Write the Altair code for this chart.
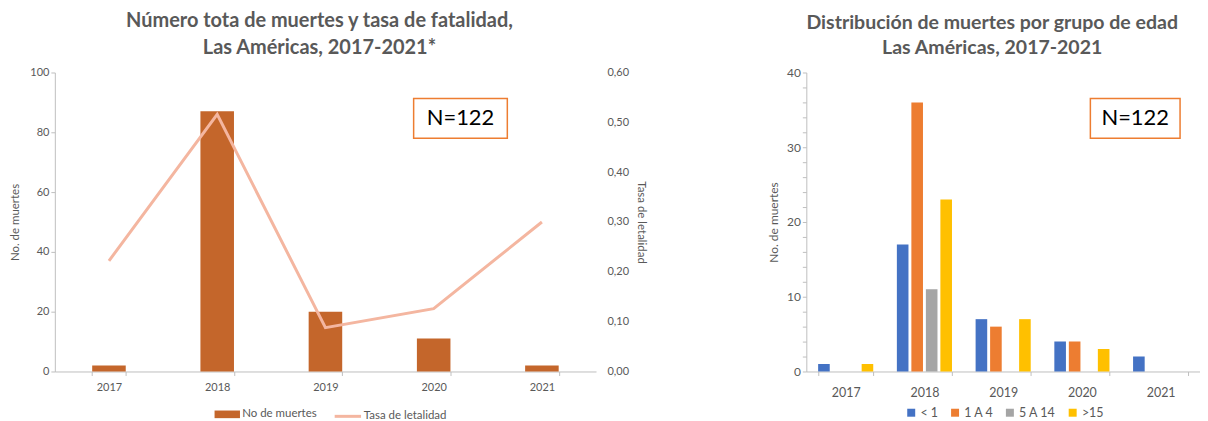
import altair as alt
import pandas as pd

# ---------------- data ----------------
years = ["2017", "2018", "2019", "2020", "2021"]
muertes = [2, 87, 20, 11, 2]
tasa = [0.222, 0.516, 0.088, 0.126, 0.300]

age_groups = ["< 1", "1 A 4", "5 A 14", ">15"]
g_lt1 = [1, 17, 7, 4, 2]
g_1a4 = [0, 36, 6, 4, 0]
g_5a14 = [0, 11, 0, 0, 0]
g_gt15 = [1, 23, 7, 3, 0]

age_colors = ["#4472C4", "#ED7D31", "#A5A5A5", "#FFC000"]
bar_color = "#C4662B"
line_color = "#F4B6A0"
grey = "#595959"
axis_grey = "#BFBFBF"
FONT = "Lato"

left_df = pd.DataFrame({"year": years, "muertes": muertes, "tasa": tasa,
                        "s1": "No de muertes", "s2": "Tasa de letalidad"})

rows = []
for g, vals in zip(age_groups, [g_lt1, g_1a4, g_5a14, g_gt15]):
    for y, v in zip(years, vals):
        rows.append({"year": y, "grupo": g, "n": v})
right_df = pd.DataFrame(rows)
label_df = pd.DataFrame({"t": ["N=122"]})

LW, LH = 543, 300
RW, RH = 395, 300

# ---------------- left chart ----------------
xl = alt.X("year:N", title=None,
           scale=alt.Scale(paddingInner=0.69, paddingOuter=0.345),
           axis=alt.Axis(labelAngle=0, tickBand="extent", tickSize=4,
                         domainColor=axis_grey, tickColor=axis_grey,
                         labelColor=grey, labelFont=FONT, labelFontSize=11,
                         labelPadding=6))

bars = alt.Chart(left_df).mark_bar().encode(
    x=xl,
    y=alt.Y("muertes:Q", title="No. de muertes",
            scale=alt.Scale(domain=[0, 100]),
            axis=alt.Axis(values=[0, 20, 40, 60, 80, 100], grid=False,
                          domainColor=axis_grey, tickColor=axis_grey, tickSize=4,
                          labelColor=grey, labelFont=FONT, labelFontSize=11,
                          titleColor=grey, titleFont=FONT, titleFontSize=11.5,
                          titleFontWeight="normal", titlePadding=9)),
    fill=alt.Fill("s1:N", scale=alt.Scale(domain=["No de muertes"], range=[bar_color]),
                  legend=alt.Legend(title=None, orient="none", legendX=160, legendY=330,
                                    symbolType="M-1,-0.3H1V0.3H-1Z", symbolSize=650,
                                    symbolStrokeWidth=0,
                                    labelFont=FONT, labelFontSize=11.5, labelColor=grey,
                                    labelOffset=2)),
)

line = alt.Chart(left_df).mark_line(strokeWidth=3).encode(
    x=xl,
    y=alt.Y("tasa:Q", title="Tasa de letalidad",
            scale=alt.Scale(domain=[0, 0.6]),
            axis=alt.Axis(orient="right", values=[0, 0.1, 0.2, 0.3, 0.4, 0.5, 0.6],
                          labelExpr="replace(format(datum.value, '.2f'), '.', ',')",
                          grid=False, domain=False, ticks=False, labelPadding=11,
                          labelColor=grey, labelFont=FONT, labelFontSize=11,
                          titleColor=grey, titleFont=FONT, titleFontSize=11.5,
                          titleFontWeight="normal", titlePadding=7)),
    stroke=alt.Stroke("s2:N", scale=alt.Scale(domain=["Tasa de letalidad"], range=[line_color]),
                      legend=alt.Legend(title=None, orient="none", legendX=279, legendY=330,
                                        symbolType="stroke", symbolStrokeWidth=3,
                                        symbolSize=700,
                                        labelFont=FONT, labelFontSize=11.5, labelColor=grey,
                                        labelOffset=1)),
)

box_l = alt.Chart(label_df).mark_rect(fill="white", stroke="#ED7D31", strokeWidth=1.5).encode(
    x=alt.value(360), x2=alt.value(454), y=alt.value(26), y2=alt.value(66))
text_l = alt.Chart(label_df).mark_text(font=FONT, fontSize=22, color="black").encode(
    text="t:N", x=alt.value(407), y=alt.value(46))

left = alt.layer(bars, line, box_l, text_l).resolve_scale(
    y="independent", fill="independent", stroke="independent"
).properties(
    width=LW, height=LH,
    title=alt.TitleParams(
        text=["Número tota de muertes y tasa de fatalidad,", "Las Américas, 2017-2021*"],
        font=FONT, fontSize=20, fontWeight="bold", color=grey,
        anchor="middle", lineHeight=27, offset=9, dx=-6),
)

# ---------------- right chart ----------------
rbars = alt.Chart(right_df).mark_bar().encode(
    x=alt.X("year:N", title=None,
            scale=alt.Scale(paddingInner=0.3, paddingOuter=0.15),
            axis=alt.Axis(labelAngle=0, tickBand="extent", tickSize=4,
                          domainColor=axis_grey, tickColor=axis_grey,
                          labelColor=grey, labelFont=FONT, labelFontSize=12.5,
                          labelPadding=11)),
    xOffset=alt.XOffset("grupo:N", sort=age_groups,
                        scale=alt.Scale(paddingInner=0.2)),
    y=alt.Y("n:Q", title="No. de muertes",
            scale=alt.Scale(domain=[0, 40]),
            axis=alt.Axis(values=list(range(0, 41, 2)),
                          labelExpr="datum.value % 10 == 0 ? datum.label : ''",
                          grid=False, domainColor=axis_grey, tickColor=axis_grey,
                          tickSize=4, labelColor=grey, labelFont=FONT,
                          labelFontSize=12, titleColor=grey, titleFont=FONT,
                          titleFontSize=12, titleFontWeight="normal", titlePadding=6)),
    color=alt.Color("grupo:N", sort=age_groups,
                    scale=alt.Scale(domain=age_groups, range=age_colors),
                    legend=alt.Legend(title=None, orient="none", legendX=99, legendY=335,
                                      direction="horizontal", columns=4,
                                      symbolType="square", symbolSize=64,
                                      symbolStrokeWidth=0, columnPadding=10,
                                      labelFont=FONT, labelFontSize=12.5,
                                      labelColor=grey, labelOffset=3)),
)

box_r = alt.Chart(label_df).mark_rect(fill="white", stroke="#ED7D31", strokeWidth=1.5).encode(
    x=alt.value(285), x2=alt.value(375), y=alt.value(26), y2=alt.value(66))
text_r = alt.Chart(label_df).mark_text(font=FONT, fontSize=22, color="black").encode(
    text="t:N", x=alt.value(330), y=alt.value(46))

right = alt.layer(rbars, box_r, text_r).properties(
    width=RW, height=RH,
    title=alt.TitleParams(
        text=["Distribución de muertes por grupo de edad", "Las Américas, 2017-2021"],
        font=FONT, fontSize=19.6, fontWeight="bold", color=grey,
        anchor="middle", lineHeight=25, offset=8, dx=-11),
)

chart = alt.hconcat(left, right, spacing=121).resolve_scale(
    x="independent", y="independent", color="independent",
    fill="independent", stroke="independent"
).configure_view(stroke=None).properties(
    padding={"left": 1, "top": 2, "right": 0, "bottom": 5}
)

chart.save("out.html", embed_options={"renderer": "svg", "actions": False})
